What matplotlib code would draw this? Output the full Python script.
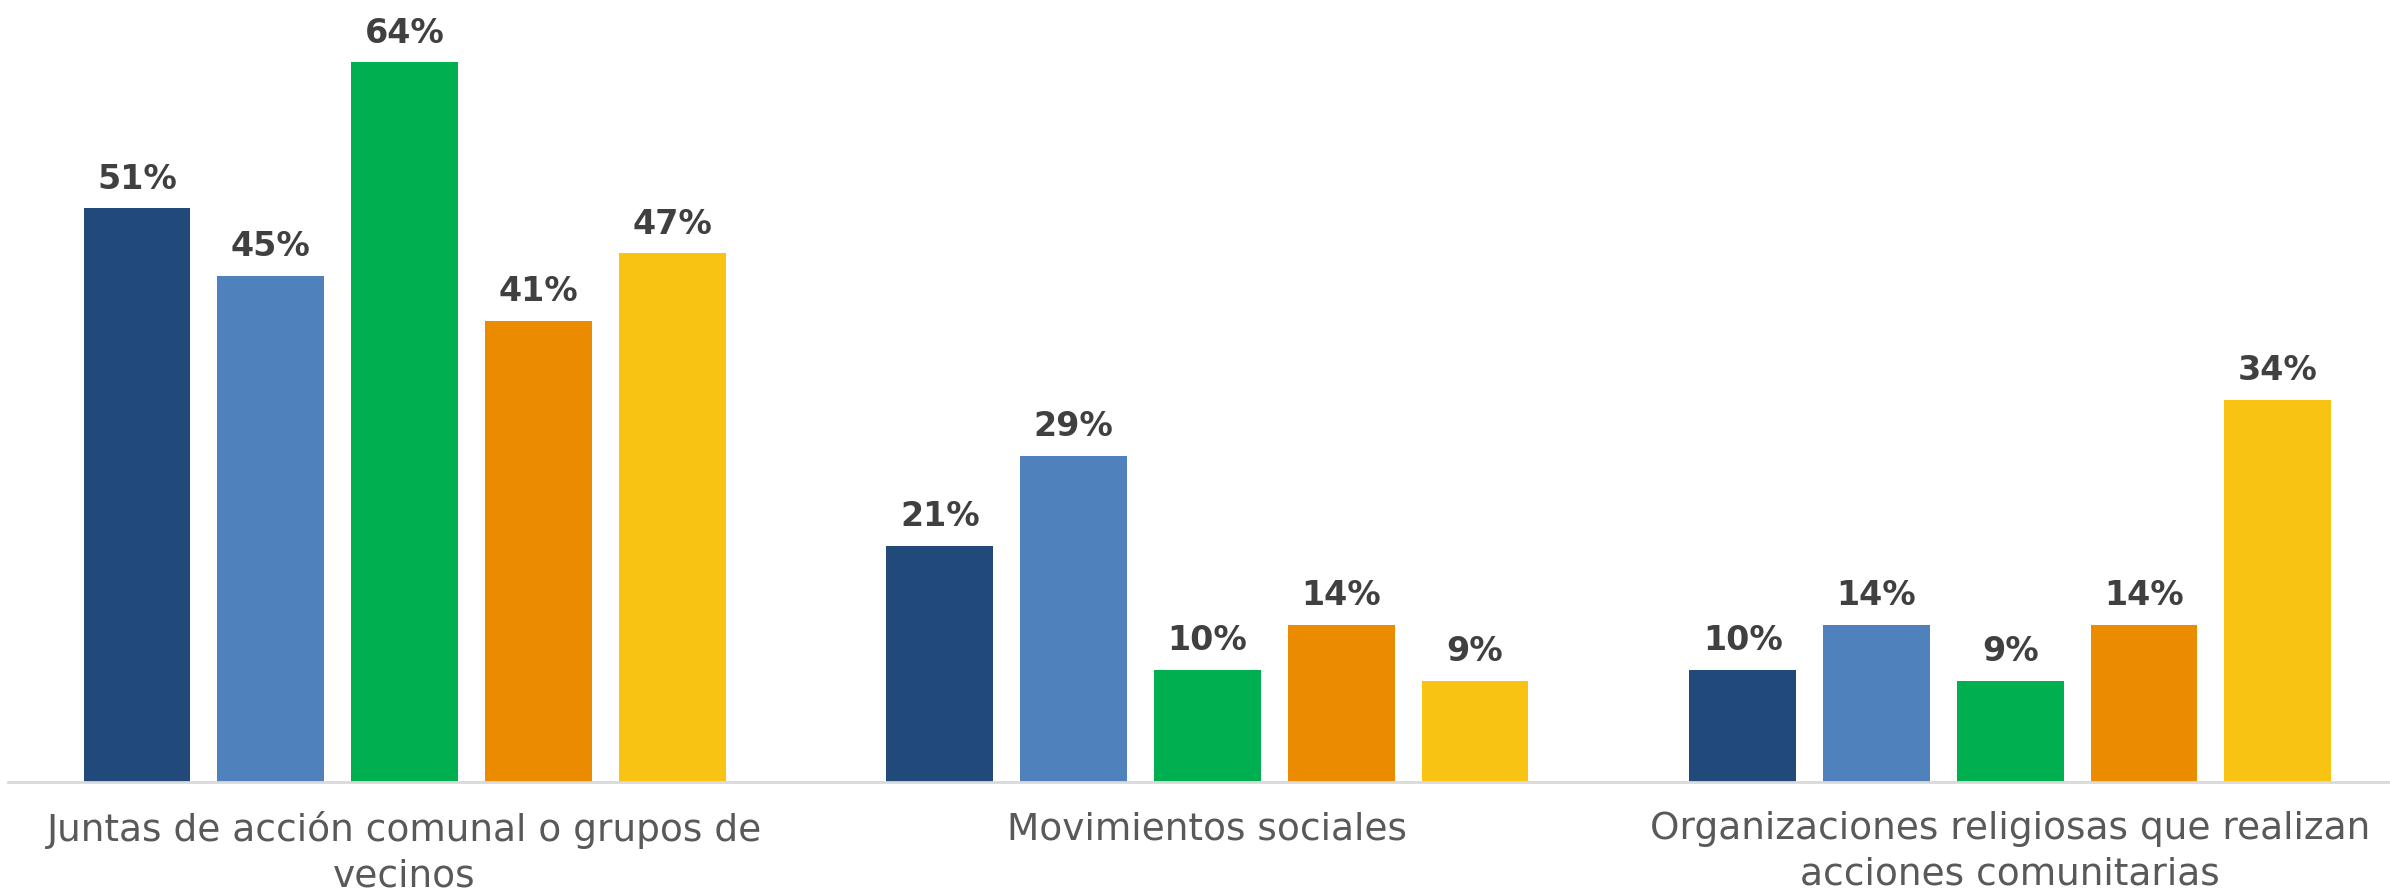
import numpy as np
from matplotlib import pyplot as plt

categories = ['Juntas de acción comunal o grupos de\nvecinos',
              'Movimientos sociales',
              'Organizaciones religiosas que realizan\nacciones comunitarias']
serie1 = [51, 21, 10]
serie2 = [45, 29, 14]
serie3 = [64, 10, 9]
serie4 = [41, 14, 14]
serie5 = [47, 9, 34]

series = [serie1, serie2, serie3, serie4, serie5]
colors = ['#21497A', '#4F81BD', '#00B050', '#EA8B00', '#F8C312']

fig = plt.figure(figsize=(23.9, 8.93), dpi=100)
ax = fig.add_axes([8 / 2390, 111 / 893, 1 - 8 / 2390, 787.5 / 893])

x = np.arange(len(categories))
step = 1 / 6
width = 0.133

for i, (vals, col) in enumerate(zip(series, colors)):
    pos = x + (i - 2) * step
    bars = ax.bar(pos, vals, width, color=col, zorder=2)
    for b, v in zip(bars, vals):
        ax.annotate(f'{v}%', (b.get_x() + b.get_width() / 2, v),
                    xytext=(0, 9), textcoords='offset points',
                    ha='center', va='bottom', fontsize=24,
                    fontweight='bold', color='#404040')

ax.set_xlim(-0.494, 2.473)
ax.set_ylim(0, 70)
ax.set_xticks(x)
ax.set_xticklabels(categories, fontsize=27, color='#595959', linespacing=1.35)
ax.tick_params(axis='x', length=0, pad=21)
ax.set_yticks([])
for s in ['top', 'right', 'left']:
    ax.spines[s].set_visible(False)
ax.spines['bottom'].set_color('#D9D9D9')
ax.spines['bottom'].set_linewidth(2)

fig.savefig('out.png', dpi=100)
